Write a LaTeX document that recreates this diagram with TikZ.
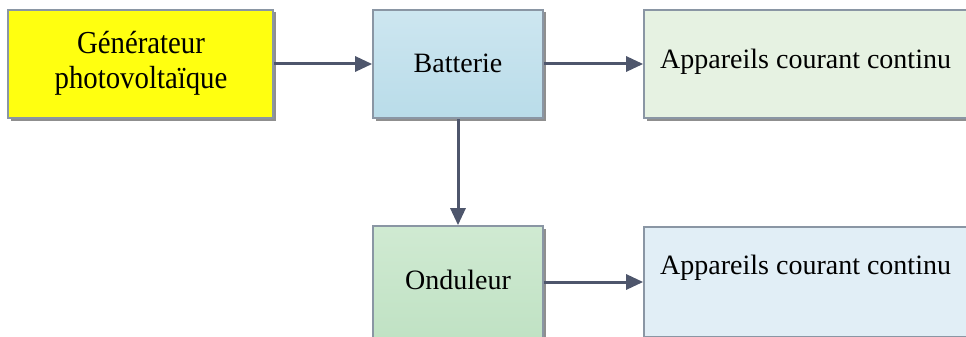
\documentclass[tikz,border=0pt]{standalone}
\usepackage{fontspec}
\setmainfont{Liberation Serif}
\usetikzlibrary{arrows.meta,shadows}
\definecolor{bordergray}{HTML}{8A96A4}
\definecolor{arrowcol}{HTML}{4E566C}
\definecolor{genyellow}{HTML}{FFFF10}
\definecolor{battop}{HTML}{CDE6F0}
\definecolor{batbot}{HTML}{B9DCE9}
\definecolor{appgreen}{HTML}{E6F2E2}
\definecolor{ondtop}{HTML}{D0EAD2}
\definecolor{ondbot}{HTML}{C0E2C4}
\definecolor{appblue}{HTML}{E1EEF6}
\tikzset{
  box/.style={draw=bordergray, line width=1.7pt, inner sep=0pt,
    drop shadow={shadow xshift=2.5pt, shadow yshift=-2.5pt, fill=black!55, opacity=0.8}},
  lbl/.style={font=\fontsize{28}{31}\selectfont, inner sep=0pt, align=center},
  conn/.style={draw=arrowcol, line width=3pt, -{Triangle[length=17pt,width=15pt]}}
}
\begin{document}
\begin{tikzpicture}[x=1pt,y=-1pt]
\useasboundingbox (0,0) rectangle (966,337);
\node[box, fill=genyellow, minimum width=265pt, minimum height=108pt] (gen) at (140.5,64) {};
\node[lbl, font=\fontsize{32}{35}\selectfont, xscale=0.9] (gent) at (141,63) {Générateur\\photovoltaïque};
\node[box, top color=battop, bottom color=batbot, minimum width=170pt, minimum height=108pt] (bat) at (458,64) {};
\node[lbl] (batt) at (458,63) {Batterie};
\node[box, fill=appgreen, minimum width=336pt, minimum height=108pt] (app1) at (812,64) {};
\node[lbl, anchor=west] (app1t) at (660,62) {Appareils courant continu};
\node[box, top color=ondtop, bottom color=ondbot, minimum width=170pt, minimum height=112pt] (ond) at (458,282) {};
\node[lbl] (ondt) at (458,280) {Onduleur};
\node[box, fill=appblue, minimum width=336pt, minimum height=110pt] (app2) at (812,282) {};
\node[lbl, anchor=west] (app2t) at (660,268) {Appareils courant continu};
\draw[conn] (gen.east) -- (bat.west);
\draw[conn] (bat.east) -- (app1.west);
\draw[conn] (bat.south) -- (ond.north);
\draw[conn] (ond.east) -- (app2.west);
\end{tikzpicture}
\end{document}
